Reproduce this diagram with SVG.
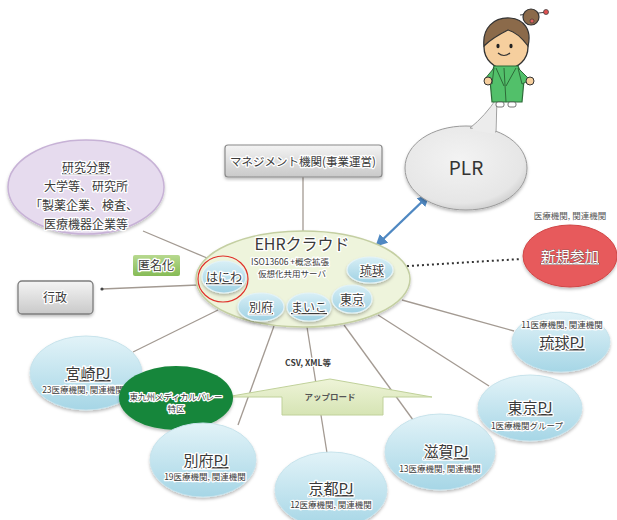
<svg xmlns="http://www.w3.org/2000/svg" width="617" height="520" viewBox="0 0 617 520">
  <defs>
    <linearGradient id="gBlue" x1="0" y1="0" x2="0" y2="1">
      <stop offset="0" stop-color="#e2f3f8"/>
      <stop offset="1" stop-color="#a6d6e6"/>
    </linearGradient>
    <linearGradient id="gSmall" x1="0" y1="0" x2="0" y2="1">
      <stop offset="0" stop-color="#d8eff6"/>
      <stop offset="1" stop-color="#9fd1e3"/>
    </linearGradient>
    <linearGradient id="gGray" x1="0" y1="0" x2="0" y2="1">
      <stop offset="0" stop-color="#f4f4f4"/>
      <stop offset="1" stop-color="#c9c9c9"/>
    </linearGradient>
    <linearGradient id="gGreenTag" x1="0" y1="0" x2="0" y2="1">
      <stop offset="0" stop-color="#b7d98f"/>
      <stop offset="1" stop-color="#86bb56"/>
    </linearGradient>
    <linearGradient id="gUpload" x1="0" y1="0" x2="0" y2="1">
      <stop offset="0" stop-color="#eef4d8"/>
      <stop offset="1" stop-color="#d6e4b4"/>
    </linearGradient>
    <radialGradient id="gPLR" cx="0.45" cy="0.4" r="0.65">
      <stop offset="0" stop-color="#f3f3f3"/>
      <stop offset="0.8" stop-color="#e6e6e6"/>
      <stop offset="1" stop-color="#c8c8c8"/>
    </radialGradient>
    <filter id="soft" x="-10%" y="-10%" width="120%" height="125%">
      <feDropShadow dx="0" dy="2" stdDeviation="1.5" flood-color="#000" flood-opacity="0.25"/>
    </filter>
    <marker id="bArrow" viewBox="0 0 10 10" refX="8" refY="5" markerWidth="5" markerHeight="5" orient="auto-start-reverse">
      <path d="M0,0 L10,5 L0,10 z" fill="#4f88c2"/>
    </marker>
    <style>
      text { font-family: "Noto Sans CJK JP", "Noto Sans", sans-serif; text-anchor: middle; }
      .t { fill: #3a3a3a; stroke: #fff; stroke-width: 2.6; paint-order: stroke; stroke-linejoin: round; }
      .u { text-decoration: underline; }
      .link { stroke: #a39a92; stroke-width: 1.3; fill: none; }
      .pj { fill: url(#gBlue); stroke: #c7e3ec; stroke-width: 1; filter: url(#soft); }
      .sm { fill: url(#gSmall); stroke: #e4f3f7; stroke-width: 1.2; filter: url(#soft); }
      .title { font-size: 15px; }
      .sub { font-size: 8.5px; }
    </style>
  </defs>

  <rect width="617" height="520" fill="#fff"/>

  <!-- connectors -->
  <g id="connectors">
    <line class="link" x1="303" y1="177" x2="303" y2="232"/>
    <line class="link" x1="143" y1="231" x2="207" y2="258"/>
    <line class="link" x1="102" y1="289" x2="198" y2="285"/>
    <circle cx="102" cy="289" r="1.6" fill="#444"/>
    <line class="link" x1="218" y1="310" x2="133" y2="352"/>
    <line class="link" x1="274" y1="326" x2="238" y2="425"/>
    <line class="link" x1="307" y1="327" x2="327" y2="453"/>
    <line class="link" x1="344" y1="325" x2="416" y2="424"/>
    <line class="link" x1="378" y1="315" x2="489" y2="386"/>
    <line class="link" x1="402" y1="300" x2="514" y2="331"/>
    <line x1="377" y1="245" x2="428" y2="196" stroke="#4f88c2" stroke-width="2.4" marker-start="url(#bArrow)" marker-end="url(#bArrow)"/>
    <line x1="326" y1="272" x2="348" y2="270" stroke="#333" stroke-width="2" stroke-dasharray="2 3"/>
    <line x1="392" y1="267" x2="521" y2="259" stroke="#333" stroke-width="2" stroke-dasharray="2 3"/>
  </g>

  <!-- research -->
  <g id="research">
    <ellipse cx="86" cy="187" rx="78" ry="47" fill="#e6dbee" stroke="#c7b2d6" stroke-width="1.5" filter="url(#soft)"/>
    <text class="t u" x="86" y="172" font-size="12">研究分野</text>
    <text class="t" x="86" y="191" font-size="12">大学等、研究所</text>
    <text class="t" x="84" y="210" font-size="12">「製薬企業、検査、</text>
    <text class="t" x="86" y="229" font-size="12">医療機器企業等</text>
  </g>

  <!-- management -->
  <g id="management">
    <rect x="225" y="145" width="157" height="32" rx="3" fill="url(#gGray)" stroke="#8a8a8a" stroke-width="1.2" filter="url(#soft)"/>
    <text class="t" x="303" y="166" font-size="11.5">マネジメント機関(事業運営)</text>
  </g>

  <!-- anonymisation tag -->
  <g id="anon">
    <rect x="133" y="255" width="47" height="21" rx="2" fill="url(#gGreenTag)"/>
    <text class="t" x="156" y="270" font-size="12">匿名化</text>
  </g>

  <!-- administration -->
  <g id="gyosei">
    <rect x="18" y="281" width="75" height="33" rx="4" fill="url(#gGray)" stroke="#7d7d7d" stroke-width="1.3" filter="url(#soft)"/>
    <text class="t" x="55" y="302" font-size="12">行政</text>
  </g>

  <!-- EHR cloud -->
  <g id="ehr">
    <ellipse cx="303" cy="279" rx="107" ry="48" fill="#eef4dc" stroke="#c4cfa2" stroke-width="1.5" filter="url(#soft)"/>
    <text class="t" x="302" y="250" font-size="16">EHRクラウド</text>
    <text class="t" x="290" y="265" font-size="8.5">ISO13606 +概念拡張</text>
    <text class="t" x="292" y="277" font-size="8.5">仮想化共用サーバ</text>
  </g>

  <g id="haniwa">
    <ellipse cx="224" cy="277" rx="22" ry="16" class="sm"/>
    <ellipse cx="223" cy="279" rx="25" ry="23" fill="none" stroke="#e0302a" stroke-width="1.2"/>
    <text class="t u" x="224" y="282" font-size="12">はにわ</text>
  </g>
  <g id="ryukyu-s">
    <ellipse cx="370" cy="270" rx="23" ry="13" class="sm"/>
    <text class="t u" x="372" y="275" font-size="12">琉球</text>
  </g>
  <g id="beppu-s">
    <ellipse cx="261" cy="307" rx="23" ry="14" class="sm"/>
    <text class="t u" x="261" y="312" font-size="12">別府</text>
  </g>
  <g id="maiko-s">
    <ellipse cx="309" cy="307" rx="22" ry="14" class="sm"/>
    <text class="t u" x="309" y="312" font-size="12">まいこ</text>
  </g>
  <g id="tokyo-s">
    <ellipse cx="352" cy="299" rx="20" ry="14" class="sm"/>
    <text class="t u" x="352" y="304" font-size="12">東京</text>
  </g>

  <!-- PLR speech bubble -->
  <g id="plr">
    <path d="M466,126 C500,126 527,144 527,168 C527,192 500,210 466,210 C432,210 405,192 405,168 C405,144 432,126 466,126 Z" fill="url(#gPLR)" stroke="#9a9a9a" stroke-width="1" filter="url(#soft)"/>
    <path d="M470,128 Q485,116 497,98 L496,132 Z" fill="#ececec" stroke="#a0a0a0" stroke-width="1"/>
    <path d="M471,130 Q485,118 496,100 L495,134 Z" fill="#ececec"/>
    <text x="466" y="175" font-size="19" fill="#333" font-family="Liberation Sans, sans-serif">PLR</text>
  </g>

  <!-- character -->
  <g id="person">
    <!-- bun and hairpin -->
    <line x1="520" y1="15" x2="548" y2="12" stroke="#444" stroke-width="1.2"/>
    <circle cx="546" cy="12" r="2.5" fill="#e05050" stroke="#444" stroke-width="0.8"/>
    <circle cx="531" cy="17" r="8" fill="#8b6a4a" stroke="#333" stroke-width="1.2"/>
    <circle cx="532" cy="21" r="2" fill="#e06060" stroke="#333" stroke-width="0.6"/>
    <!-- face -->
    <ellipse cx="506" cy="47" rx="22" ry="22" fill="#f6cf9e" stroke="#333" stroke-width="1.3"/>
    <path d="M484,46 C482,28 494,17 510,18 C524,19 532,30 528,46 C522,38 516,32 508,30 C500,34 492,38 484,46 Z" fill="#8b6a4a" stroke="#333" stroke-width="1.2"/>
    <ellipse cx="498" cy="46" rx="1.6" ry="2.2" fill="#222"/>
    <ellipse cx="511" cy="46" rx="1.6" ry="2.2" fill="#222"/>
    <path d="M498,53 Q504,58 510,53" fill="none" stroke="#333" stroke-width="1.2"/>
    <!-- body -->
    <path d="M494,66 L518,66 L524,80 L522,102 L492,102 L490,80 Z" fill="#52c06a" stroke="#2d6a38" stroke-width="1.2"/>
    <line x1="504" y1="68" x2="506" y2="102" stroke="#2d6a38" stroke-width="1"/>
    <line x1="496" y1="68" x2="504" y2="86" stroke="#2d6a38" stroke-width="1"/>
    <line x1="516" y1="68" x2="506" y2="86" stroke="#2d6a38" stroke-width="1"/>
    <path d="M494,68 L484,80 L492,84 Z" fill="#52c06a" stroke="#2d6a38" stroke-width="1"/>
    <path d="M518,68 L530,80 L522,84 Z" fill="#52c06a" stroke="#2d6a38" stroke-width="1"/>
    <circle cx="488" cy="81" r="4" fill="#f6cf9e" stroke="#333" stroke-width="1"/>
    <circle cx="530" cy="81" r="4" fill="#f6cf9e" stroke="#333" stroke-width="1"/>
    <rect x="496" y="102" width="8" height="5" rx="2" fill="#fff" stroke="#555" stroke-width="0.8"/>
    <rect x="508" y="102" width="8" height="5" rx="2" fill="#fff" stroke="#555" stroke-width="0.8"/>
  </g>

  <!-- new participants -->
  <g id="shinki">
    <text x="570" y="219" font-size="8.5" fill="#555">医療機関, 関連機関</text>
    <ellipse cx="570" cy="256" rx="47" ry="31" fill="#e75a5b" stroke="#d04848" stroke-width="1" filter="url(#soft)"/>
    <text x="570" y="262" font-size="14.5" fill="#fff" stroke="#555" stroke-width="0.6" paint-order="stroke" class="u">新規参加</text>
  </g>

  <!-- upload arrow -->
  <g id="upload">
    <text class="t" x="308" y="366" font-size="8.5" font-family="Liberation Sans, sans-serif" font-weight="bold">CSV, XML等</text>
    <path d="M226,397 L330,379 L432,397 L383,397 L383,415 L282,415 L282,397 Z" fill="url(#gUpload)" stroke="#c0d19a" stroke-width="1"/>
    <text x="330" y="400" font-size="8.5" fill="#555" font-weight="bold">アップロード</text>
  </g>

  <!-- project sites -->
  <g id="miyazaki">
    <ellipse cx="86" cy="373" rx="56" ry="37" class="pj"/>
    <text class="t u title" x="88" y="379">宮崎PJ</text>
    <text class="t sub" x="83" y="393">23医療機関, 関連機関</text>
  </g>
  <g id="kyushu">
    <ellipse cx="176" cy="398" rx="57" ry="32" fill="#18863a" filter="url(#soft)"/>
    <text class="t sub" x="176" y="400" font-size="9">東九州メディカルバレー</text>
    <text class="t sub" x="176" y="412">特区</text>
  </g>
  <g id="beppu">
    <ellipse cx="203" cy="460" rx="53" ry="37" class="pj"/>
    <text class="t u title" x="206" y="466">別府PJ</text>
    <text class="t sub" x="205" y="480">19医療機関, 関連機関</text>
  </g>
  <g id="kyoto">
    <ellipse cx="331" cy="490" rx="56" ry="38" class="pj"/>
    <text class="t u title" x="331" y="494">京都PJ</text>
    <text class="t sub" x="331" y="508">12医療機関, 関連機関</text>
  </g>
  <g id="shiga">
    <ellipse cx="440" cy="452" rx="55" ry="38" class="pj"/>
    <text class="t u title" x="446" y="457">滋賀PJ</text>
    <text class="t sub" x="440" y="472">13医療機関, 関連機関</text>
  </g>
  <g id="tokyo">
    <ellipse cx="530" cy="408" rx="52" ry="33" class="pj"/>
    <text class="t u title" x="530" y="413">東京PJ</text>
    <text class="t sub" x="527" y="429">1医療機関グループ</text>
  </g>
  <g id="ryukyu">
    <ellipse cx="561" cy="342" rx="49" ry="30" class="pj"/>
    <text class="t sub" x="562" y="328">11医療機関, 関連機関</text>
    <text class="t u title" x="562" y="348">琉球PJ</text>
  </g>
</svg>
